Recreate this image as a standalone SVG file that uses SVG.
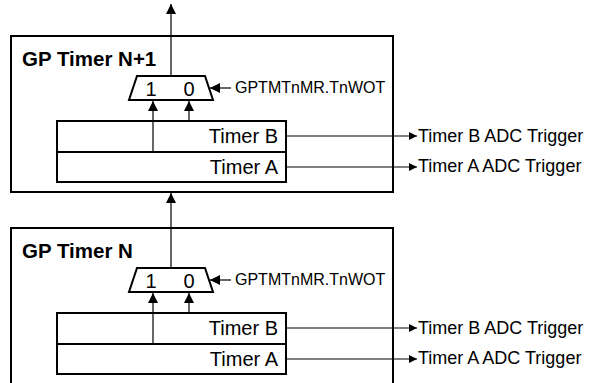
<svg xmlns="http://www.w3.org/2000/svg" width="591" height="383" viewBox="0 0 591 383">
<style>
.box{fill:none;stroke:#000;stroke-width:2}
.wire{fill:none;stroke:#000;stroke-width:1.2}
.title{font-family:"Liberation Sans",Arial,sans-serif;font-weight:bold;font-size:20.5px;fill:#000}
.lbl{font-family:"Liberation Sans",Arial,sans-serif;font-size:20px;fill:#000}
.sel{font-family:"Liberation Sans",Arial,sans-serif;font-size:16px;fill:#000}
.trg{font-family:"Liberation Sans",Arial,sans-serif;font-size:18px;fill:#000}
</style>
<defs>
<marker id="arr" viewBox="0 0 10 10" refX="10" refY="5" markerWidth="11" markerHeight="10" markerUnits="userSpaceOnUse" orient="auto"><path d="M0,0 L10,5 L0,10 z" fill="#000"/></marker>
<marker id="arrs" viewBox="0 0 10 10" refX="10" refY="5" markerWidth="12" markerHeight="8" markerUnits="userSpaceOnUse" orient="auto"><path d="M0,0 L10,5 L0,10 z" fill="#000"/></marker>
</defs>
<g id="timerN1">
<rect class="box" x="11" y="36" width="382" height="156"/>
<text class="title" x="22" y="66">GP Timer N+1</text>
<g id="muxN1">
<path class="box" d="M137,76 H205 L213,100 H129 Z"/>
<text class="lbl" x="151" y="96" text-anchor="middle">1</text>
<text class="lbl" x="189" y="96" text-anchor="middle">0</text>
</g>
<g id="timersN1">
<rect class="box" x="57" y="121" width="229" height="61"/>
<line class="box" x1="57" y1="152" x2="286" y2="152"/>
<text class="lbl" x="278" y="143" text-anchor="end">Timer B</text>
<text class="lbl" x="278" y="174" text-anchor="end">Timer A</text>
</g>
<text class="sel" x="235" y="93">GPTMTnMR.TnWOT</text>
<text class="trg" x="418" y="142">Timer B ADC Trigger</text>
<text class="trg" x="418" y="172">Timer A ADC Trigger</text>
</g>
<g id="timerN">
<path class="box" d="M11,390 V228 H393 V390"/>
<text class="title" x="22" y="258">GP Timer N</text>
<g id="muxN">
<path class="box" d="M137,268 H205 L213,292 H129 Z"/>
<text class="lbl" x="151" y="288" text-anchor="middle">1</text>
<text class="lbl" x="189" y="288" text-anchor="middle">0</text>
</g>
<g id="timersN">
<rect class="box" x="57" y="313" width="229" height="61"/>
<line class="box" x1="57" y1="344" x2="286" y2="344"/>
<text class="lbl" x="278" y="335" text-anchor="end">Timer B</text>
<text class="lbl" x="278" y="366" text-anchor="end">Timer A</text>
</g>
<text class="sel" x="235" y="285">GPTMTnMR.TnWOT</text>
<text class="trg" x="418" y="334">Timer B ADC Trigger</text>
<text class="trg" x="418" y="364">Timer A ADC Trigger</text>
</g>
<g id="connectors">
<line class="wire" x1="171" y1="76" x2="171" y2="4" marker-end="url(#arr)"/>
<line class="wire" x1="231" y1="88" x2="210" y2="88" marker-end="url(#arr)"/>
<line class="wire" x1="153" y1="152" x2="153" y2="101" marker-end="url(#arr)"/>
<line class="wire" x1="189" y1="121" x2="189" y2="101" marker-end="url(#arr)"/>
<line class="wire" x1="286" y1="136" x2="417" y2="136" marker-end="url(#arrs)"/>
<line class="wire" x1="286" y1="167" x2="417" y2="167" marker-end="url(#arrs)"/>
<line class="wire" x1="171" y1="268" x2="171" y2="193" marker-end="url(#arr)"/>
<line class="wire" x1="231" y1="280" x2="210" y2="280" marker-end="url(#arr)"/>
<line class="wire" x1="153" y1="344" x2="153" y2="293" marker-end="url(#arr)"/>
<line class="wire" x1="189" y1="313" x2="189" y2="293" marker-end="url(#arr)"/>
<line class="wire" x1="286" y1="328" x2="417" y2="328" marker-end="url(#arrs)"/>
<line class="wire" x1="286" y1="359" x2="417" y2="359" marker-end="url(#arrs)"/>
</g>
</svg>
